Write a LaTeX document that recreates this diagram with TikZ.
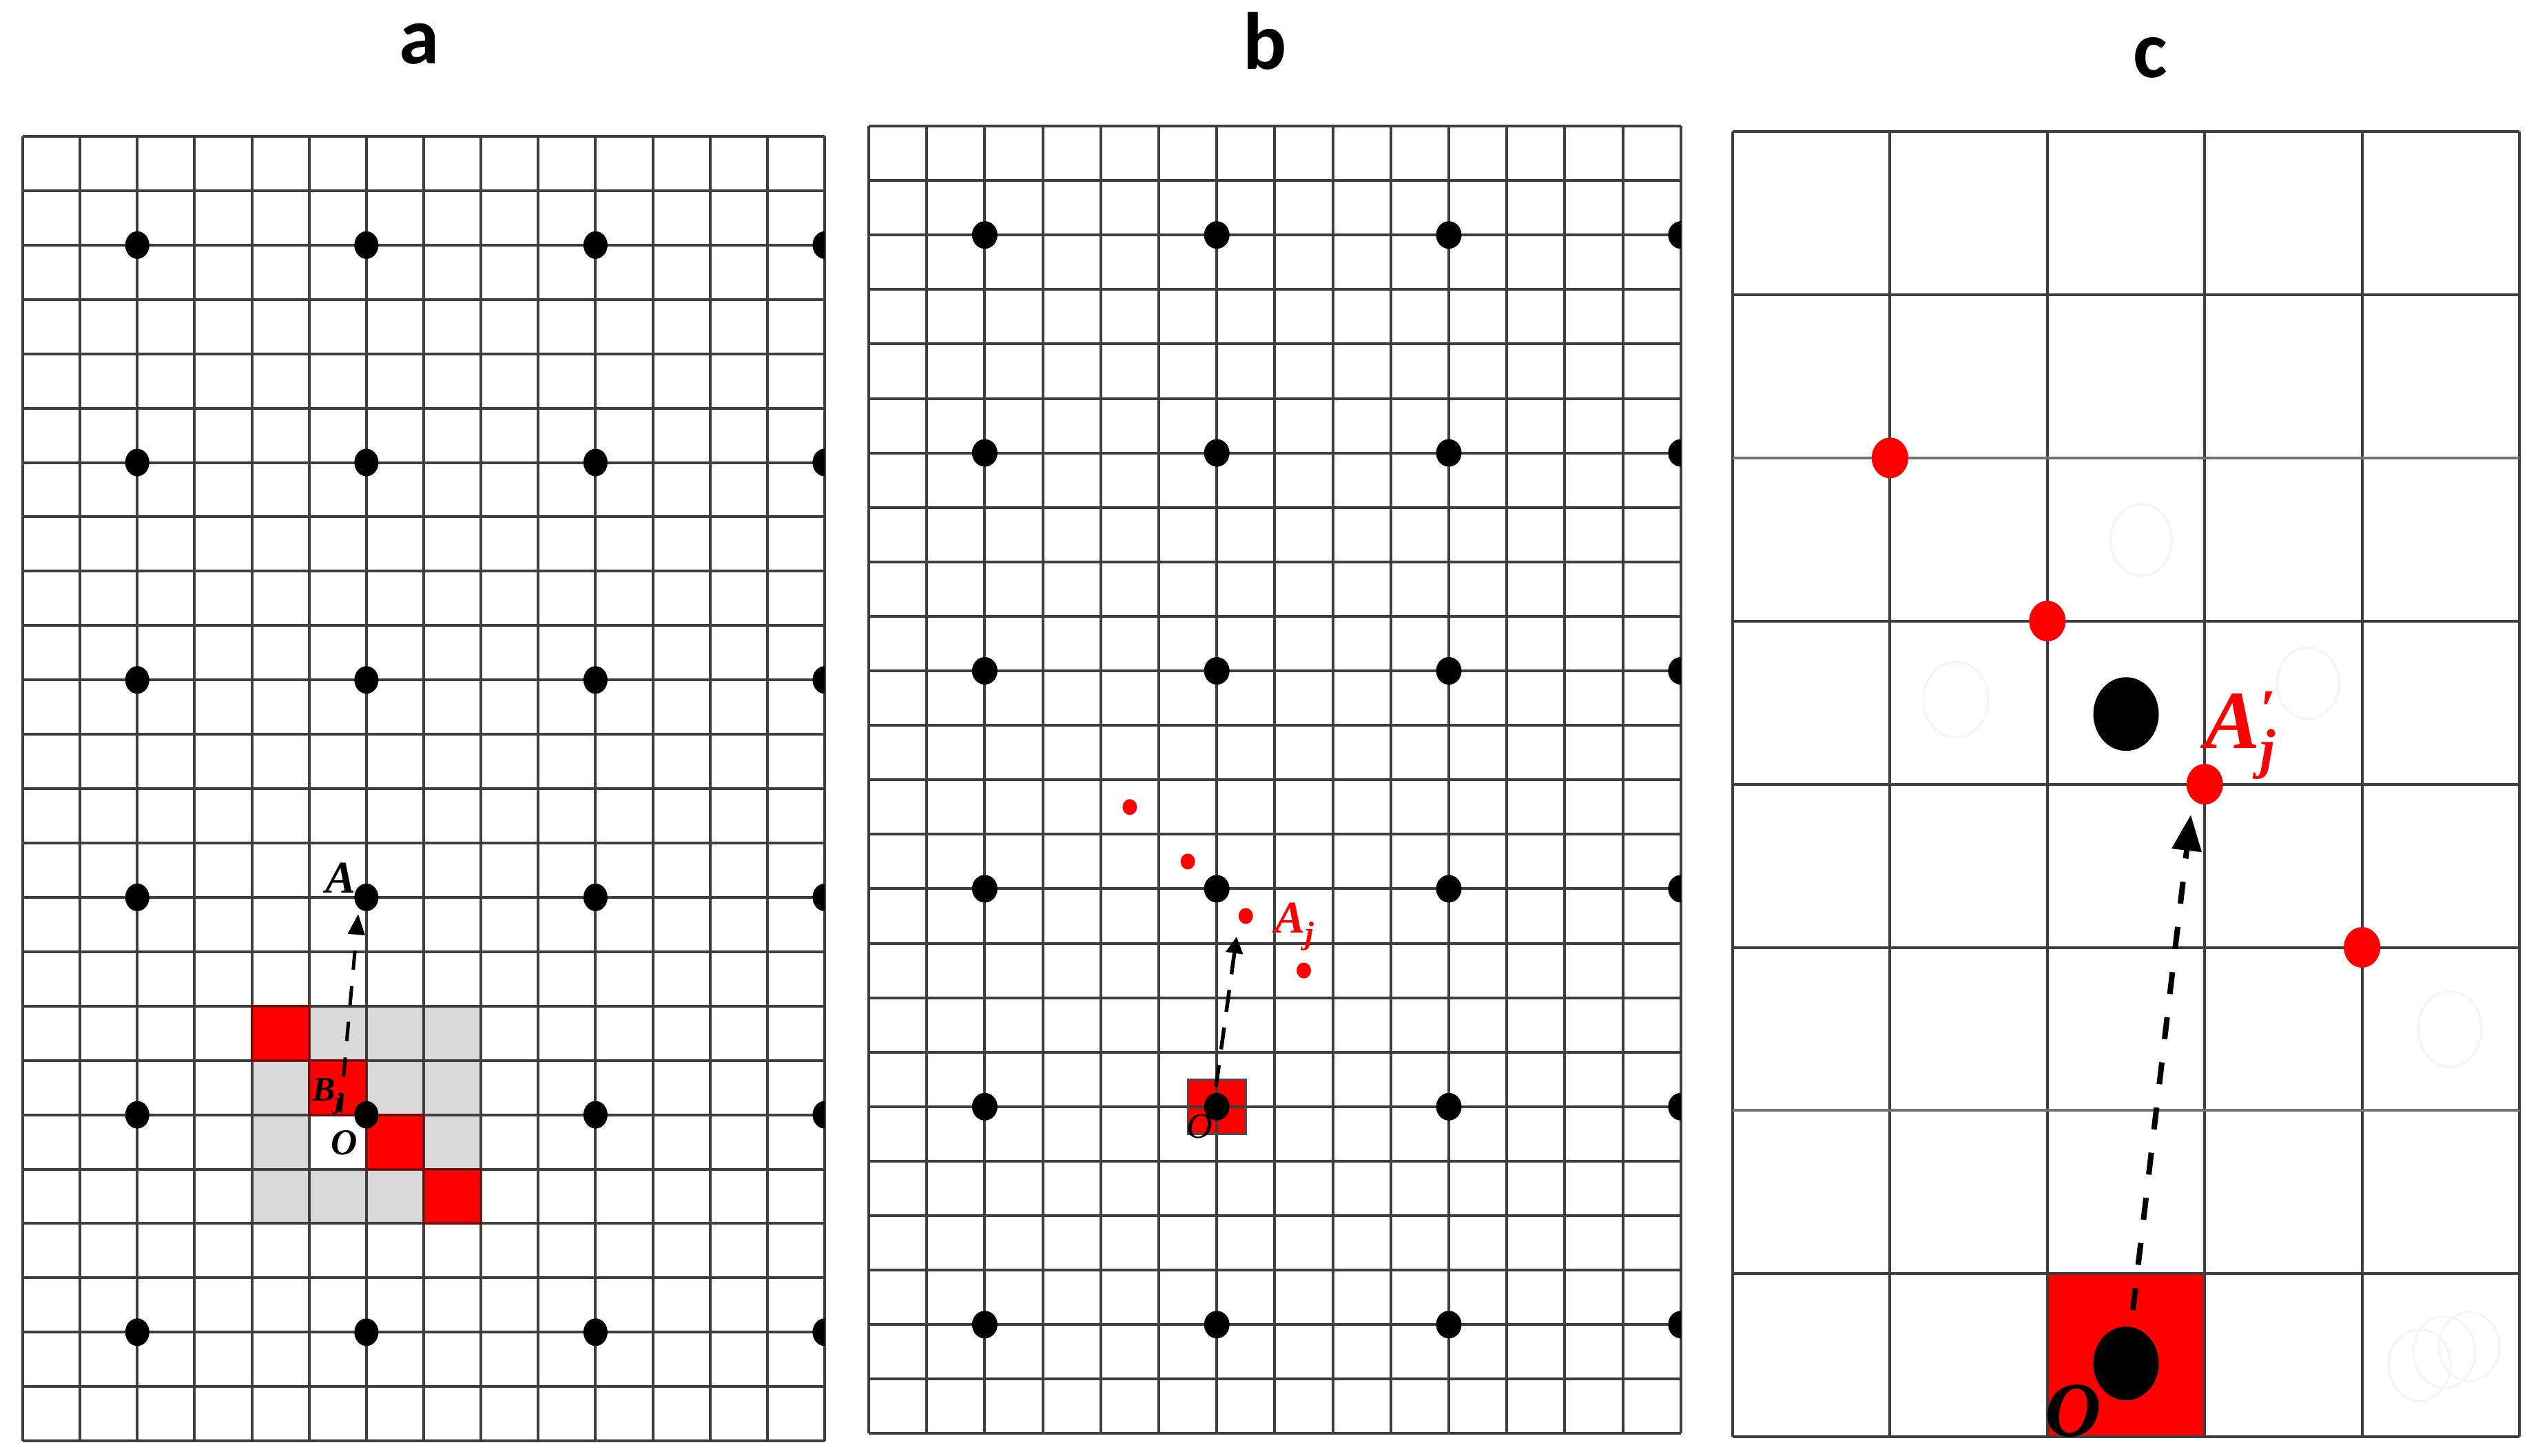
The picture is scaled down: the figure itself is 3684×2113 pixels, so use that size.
\documentclass[tikz,border=0pt]{standalone}
\usepackage{fontspec}
\newfontfamily\titlefont{Carlito}
\newfontfamily\labfont{Liberation Serif}
\usetikzlibrary{shapes.geometric,arrows.meta,calc}
\definecolor{gridcol}{RGB}{62,62,62}
\definecolor{greyc}{RGB}{217,217,217}
\definecolor{redc}{RGB}{255,0,0}
\tikzset{
  gridline/.style={line width=4pt, draw=gridcol},
  gridlight/.style={line width=4pt, draw=black!55},
  bdot/.style={ellipse, fill=black, inner sep=0pt, minimum width=35pt, minimum height=40pt},
  rdotsm/.style={ellipse, fill=redc, inner sep=0pt, minimum width=21pt, minimum height=23pt},
  bdotbig/.style={ellipse, fill=black, inner sep=0pt, minimum width=95pt, minimum height=107pt},
  rdotbig/.style={ellipse, fill=redc, inner sep=0pt, minimum width=53pt, minimum height=59pt},
  ghost/.style={draw=black!4, line width=3pt},
  paneltitle/.style={font=\titlefont\bfseries\fontsize{118}{140}\selectfont, anchor=base, inner sep=0pt},
  lbl/.style={anchor=base west, inner sep=0pt},
  darrA/.style={line width=5pt, dash pattern=on 28pt off 24pt, -{Triangle[length=30pt,width=24pt]}},
  darrB/.style={line width=5.5pt, dash pattern=on 32pt off 23pt, -{Triangle[length=24pt,width=24pt]}},
  darrC/.style={line width=8pt, dash pattern=on 32pt off 34pt, -{Triangle[length=52pt,width=42pt]}},
}
\begin{document}
\begin{tikzpicture}[x=1pt,y=-1pt]
\useasboundingbox (0,0) rectangle (3684,2113);
\fill[white] (0,0) rectangle (3684,2113);

% titles
\node[paneltitle] (ta) at (609,92) {a};
\node[paneltitle] (tb) at (1836,100) {b};
\node[paneltitle] (tc) at (3121,112) {c};

% ---------------- panel a ----------------
\begin{scope}[shift={(33,198)},x=83.14pt,y=-78.92pt]
  \fill[greyc] (4,16) rectangle (8,20);
  \fill[white] (5,18) rectangle (6,19);
  \foreach \c/\r in {4/16,5/17,6/18,7/19}
    \fill[redc] (\c,\r) rectangle ({\c+1},{\r+1});
  \foreach \i in {0,...,14} \draw[gridline] (\i,0) -- (\i,24);
  \foreach \j in {0,...,24} \draw[gridline] (0,\j) -- (14,\j);
  \foreach \c/\r in {4/16,5/17,6/18,7/19}
    \draw[red!55!black, line width=2.5pt] (\c,\r) rectangle ({\c+1},{\r+1});
  \begin{scope}
    \clip (0,0) rectangle (14,24);
    \foreach \c in {2,6,10,14}
      \foreach \r in {2,6,10,14,18,22}
        \node[bdot] (a\c-\r) at (\c,\r) {};
  \end{scope}
\end{scope}
\coordinate (aS) at (494,1615);
\coordinate (aE) at (520,1327);
\draw[darrA] (aS) -- (aE);
\node[lbl, font=\labfont\bfseries\itshape\fontsize{66}{70}\selectfont] (lA) at (472,1296) {A};
\node[lbl, font=\labfont\bfseries\itshape\fontsize{50}{56}\selectfont] (lB) at (453,1598)
  {B\raisebox{-12pt}{\fontsize{34}{40}\selectfont j}};
\node[lbl, font=\labfont\bfseries\itshape\fontsize{53}{58}\selectfont] (lOa) at (480,1676) {O};

% ---------------- panel b ----------------
\begin{scope}[shift={(1261,183)},x=84.2pt,y=-79.1pt]
  \fill[redc] (5.5,17.5) rectangle (6.5,18.5);
  \foreach \i in {0,...,14} \draw[gridline] (\i,0) -- (\i,24);
  \foreach \j in {0,...,24} \draw[gridline] (0,\j) -- (14,\j);
  \draw[black!70, line width=2.5pt] (5.5,17.5) rectangle (6.5,18.5);
  \begin{scope}
    \clip (0,0) rectangle (14,24);
    \foreach \c in {2,6,10,14}
      \foreach \r in {2,6,10,14,18,22}
        \node[bdot, minimum width=37pt] (b\c-\r) at (\c,\r) {};
  \end{scope}
  \node[rdotsm] (br1) at (4.5,12.5) {};
  \node[rdotsm] (br2) at (5.5,13.5) {};
  \node[rdotsm] (br3) at (6.5,14.5) {};
  \node[rdotsm] (br4) at (7.5,15.5) {};
\end{scope}
\coordinate (bS) at (1765,1578);
\coordinate (bE) at (1795,1360);
\draw[darrB] (bS) -- (bE);
\node[lbl, text=redc, font=\labfont\bfseries\itshape\fontsize{66}{72}\selectfont] (lAj) at (1850,1354)
  {A\raisebox{-16pt}{\fontsize{46}{50}\selectfont j}};
\node[lbl, font=\labfont\itshape\fontsize{52}{56}\selectfont] (lOb) at (1722,1652) {O};

% ---------------- panel c ----------------
\draw[ghost] (3108,784) ellipse (45 and 52);
\draw[ghost] (2839,1016) ellipse (47 and 55);
\draw[ghost] (3350,992) ellipse (45 and 52);
\draw[ghost] (3556,1494) ellipse (46 and 55);
\draw[ghost] (3512,1982) ellipse (45 and 52);
\draw[ghost] (3548,1963) ellipse (45 and 52);
\draw[ghost] (3584,1955) ellipse (44 and 50);
\begin{scope}[shift={(2515,191)},x=228.4pt,y=-236.9pt]
  \fill[redc] (2,7) rectangle (3,8);
  \foreach \i in {0,...,5} \draw[gridline] (\i,0) -- (\i,8);
  \foreach \j in {0,1,3,4,5,7,8} \draw[gridline] (0,\j) -- (5,\j);
  \foreach \j in {2,6} \draw[gridlight] (0,\j) -- (5,\j);
  \node[rdotbig] (cr1) at (1,2) {};
  \node[rdotbig] (cr2) at (2,3) {};
  \node[rdotbig] (cr3) at (3,4) {};
  \node[rdotbig] (cr4) at (4,5) {};
  \node[bdotbig] (cA) at (2.5,3.57) {};
  \node[bdotbig] (cO) at (2.5,7.55) {};
\end{scope}
\coordinate (cS) at (3096,1902);
\coordinate (cE) at (3180,1183);
\draw[darrC] (cS) -- (cE);
\node[lbl, text=redc, font=\labfont\bfseries\itshape\fontsize{120}{130}\selectfont] (lApj) at (3200,1086)
  {A\rlap{\raisebox{30pt}{\fontsize{80}{90}\selectfont ′}}\raisebox{-28pt}{\fontsize{80}{90}\selectfont j}};
\node[lbl, font=\labfont\bfseries\itshape\fontsize{113}{120}\selectfont] (lOc) at (2968,2085) {O};
\end{tikzpicture}
\end{document}
